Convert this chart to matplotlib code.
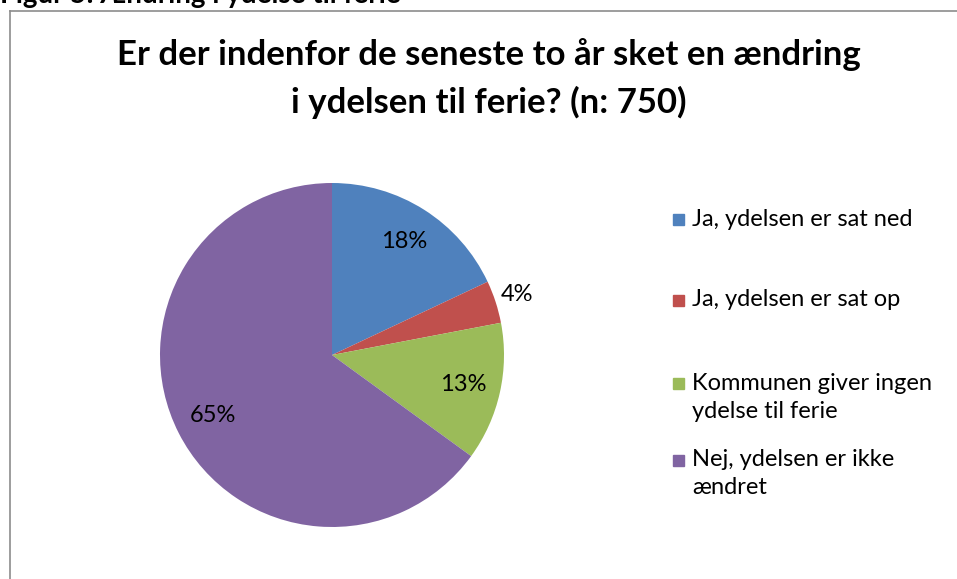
import matplotlib.pyplot as plt
from matplotlib.lines import Line2D

plt.switch_backend('Agg')
plt.rcParams['font.family'] = ['Lato', 'DejaVu Sans']

# data
categories = [['Ja, ydelsen er sat ned'], ['Ja, ydelsen er sat op'],
              ['Kommunen giver ingen', 'ydelse til ferie'],
              ['Nej, ydelsen er ikke', 'ændret']]
shares = [18, 4, 13, 65]
colors = ['#4F81BD', '#C0504D', '#9BBB59', '#8064A2']

W, H = 957, 579
fig = plt.figure(figsize=(W / 100, H / 100), dpi=100)

def fx(px):
    return px / W

def fy(py):
    return 1 - py / H

# frame of the chart area (left and top edge visible)
fig.add_artist(Line2D([fx(10), fx(10)], [fy(11), 0], color='#8c8c8c', lw=1.2))
fig.add_artist(Line2D([fx(10), 1], [fy(11), fy(11)], color='#8c8c8c', lw=1.2))

# caption cut off at the top
fig.text(fx(0), fy(3), 'Figur 5: Ændring i ydelse til ferie', fontsize=20,
         fontweight='bold', ha='left', va='baseline')

fig.text(fx(489), fy(55), 'Er der indenfor de seneste to år sket en ændring',
         fontsize=25, fontweight='bold', ha='center', va='center')
fig.text(fx(489), fy(102), 'i ydelsen til ferie? (n: 750)',
         fontsize=25, fontweight='bold', ha='center', va='center')

r = 172
ax = fig.add_axes([fx(332 - r), fy(355 + r), 2 * r / W, 2 * r / H])
wedges, texts, autotexts = ax.pie(shares, colors=colors, startangle=90,
                                  counterclock=False, autopct='%1.0f%%',
                                  pctdistance=0.78,
                                  textprops=dict(fontsize=17))
# small slice label sits outside
x, y = autotexts[1].get_position()
autotexts[1].set_position((x / 0.78 * 1.13, y / 0.78 * 1.13))
ax.set_xlim(-1, 1)
ax.set_ylim(-1, 1)
ax.set_aspect('equal')
ax.axis('off')

# legend drawn by hand to match spacing
leg_y = [219, 300, 383, 460]
for lines, c, yy in zip(categories, colors, leg_y):
    fig.patches.append(plt.Rectangle((fx(673), fy(yy + 6)), fx(11), 11 / H,
                                     transform=fig.transFigure, color=c))
    for i, line in enumerate(lines):
        fig.text(fx(692), fy(yy + 28 * i), line, fontsize=17,
                 ha='left', va='center')

fig.savefig('out.png', dpi=100, facecolor='white')
